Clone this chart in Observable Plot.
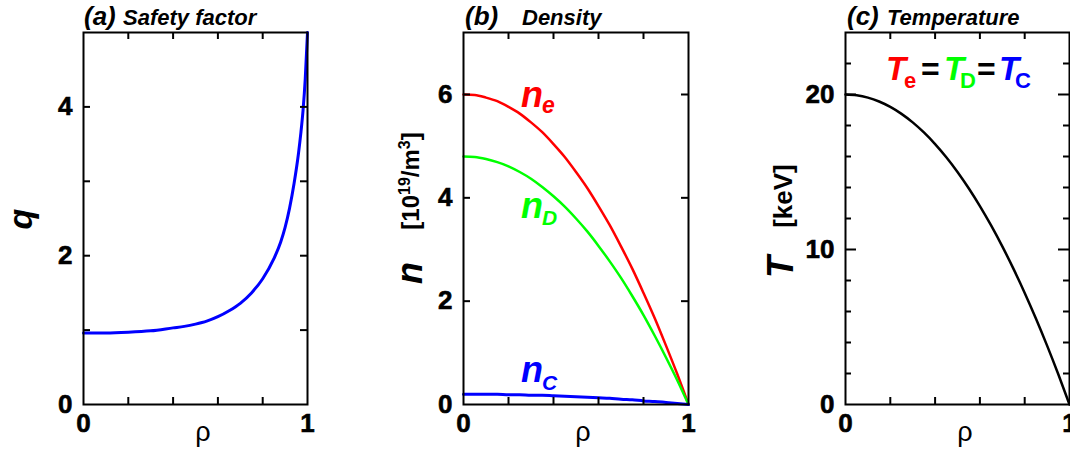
<!DOCTYPE html>
<html>
<head>
<meta charset="utf-8">
<script src="https://cdn.jsdelivr.net/npm/d3@7"></script>
<script src="https://cdn.jsdelivr.net/npm/@observablehq/plot@0.6"></script>
<style>
  body { margin: 0; background: #fff; }
  #root { position: relative; width: 1070px; height: 452px; overflow: hidden; background: #fff; }
  .panel { position: absolute; top: 0; }
  #overlay { position: absolute; left: 0; top: 0; pointer-events: none; overflow: visible; }
</style>
</head>
<body>
<div id="root"></div>
<script>
// ---------- data ----------
const rhoQ = [0, 0.1, 0.2, 0.3, 0.4, 0.45, 0.5, 0.55, 0.6, 0.65, 0.7, 0.75, 0.8, 0.85, 0.88, 0.9, 0.92, 0.94, 0.96, 0.97, 0.98, 0.99, 1.0];
const qVals = [0.96, 0.96, 0.97, 0.99, 1.03, 1.05, 1.08, 1.12, 1.18, 1.26, 1.36, 1.50, 1.69, 1.96, 2.18, 2.38, 2.64, 2.97, 3.38, 3.64, 3.95, 4.38, 5.00];

const rho = [0, 0.05, 0.1, 0.15, 0.2, 0.25, 0.3, 0.35, 0.4, 0.45, 0.5, 0.55, 0.6, 0.65, 0.7, 0.75, 0.8, 0.85, 0.9, 0.95, 1.0];
const neVals = [6.00, 5.99, 5.94, 5.87, 5.76, 5.63, 5.46, 5.27, 5.04, 4.79, 4.50, 4.19, 3.84, 3.47, 3.06, 2.63, 2.16, 1.67, 1.14, 0.59, 0.00];
const nDVals = [4.80, 4.79, 4.75, 4.69, 4.61, 4.50, 4.37, 4.21, 4.03, 3.83, 3.60, 3.35, 3.07, 2.77, 2.45, 2.10, 1.73, 1.33, 0.91, 0.47, 0.00];
const nCVals = [0.20, 0.20, 0.20, 0.20, 0.19, 0.19, 0.18, 0.18, 0.17, 0.16, 0.15, 0.14, 0.13, 0.12, 0.10, 0.09, 0.07, 0.06, 0.04, 0.02, 0.00];
const TVals  = [20.0, 19.95, 19.8, 19.55, 19.2, 18.75, 18.2, 17.55, 16.8, 15.95, 15.0, 13.95, 12.8, 11.55, 10.2, 8.75, 7.2, 5.55, 3.8, 1.95, 0.0];

const xTickLabels = [0, 1];
const xMinorTicks = [0.2, 0.4, 0.6, 0.8];
const qTickLabels = [0, 2, 4];
const qMinorTicks = [1, 3];
const nTickLabels = [0, 2, 4, 6];
const TTickLabels = [0, 10, 20];
const TMinorTicks = [2, 4, 6, 8, 12, 14, 16, 18, 22];

// ---------- layout ----------
const FONT = '"Liberation Sans", Arial, Helvetica, sans-serif';
const H = 452, MT = 32, MB = 48, PH = H - MT - MB;

function tableOf(xs, ys) { return xs.map((x, i) => ({x, y: ys[i]})); }

function makePanel({left, width, ml, mr, yDomain, yLabels, yMajor, yMinor, majorLen, minorLen, lines}) {
  const PW = width - ml - mr;
  const tk = {stroke: "black", strokeWidth: 2};
  const marks = [];
  for (const L of lines) {
    marks.push(Plot.line(tableOf(L.x, L.y), {x: "x", y: "y", stroke: L.color, strokeWidth: L.width, curve: "monotone-x"}));
  }
  marks.push(
    Plot.tickX(xMinorTicks, {x: d => d, insetTop: PH - 7, ...tk}),
    Plot.tickX(xMinorTicks, {x: d => d, insetBottom: PH - 7, ...tk}),
    Plot.tickY(yMajor, {y: d => d, insetRight: PW - majorLen, ...tk}),
    Plot.tickY(yMajor, {y: d => d, insetLeft: PW - majorLen, ...tk}),
    Plot.tickY(yMinor, {y: d => d, insetRight: PW - minorLen, ...tk}),
    Plot.tickY(yMinor, {y: d => d, insetLeft: PW - minorLen, ...tk}),
    Plot.frame({stroke: "black", strokeWidth: 2})
  );
  const svg = Plot.plot({
    width, height: H,
    marginTop: MT, marginBottom: MB, marginLeft: ml, marginRight: mr,
    x: {domain: [0, 1], ticks: xTickLabels, tickSize: 0, tickPadding: 9, label: null, tickFormat: d => String(d)},
    y: {domain: yDomain, ticks: yLabels, tickSize: 0, tickPadding: 11, label: null, tickFormat: d => String(d)},
    style: {fontFamily: FONT, fontSize: "26px", fontWeight: "bold", color: "black", background: "transparent", overflow: "visible"},
    marks
  });
  d3.select(svg).selectAll("text")
    .style("font-size", "26px").style("font-weight", "bold")
    .style("stroke", "black").style("stroke-width", "0.6px").style("paint-order", "stroke");
  const div = document.createElement("div");
  div.className = "panel";
  div.style.left = left + "px";
  div.style.width = width + "px";
  div.appendChild(svg);
  document.getElementById("root").appendChild(div);
}

makePanel({
  left: 0, width: 340, ml: 83, mr: 33,
  yDomain: [0, 5], yLabels: qTickLabels, yMajor: qTickLabels.slice(1), yMinor: qMinorTicks,
  majorLen: 7, minorLen: 7,
  lines: [{x: rhoQ, y: qVals, color: "#0000ff", width: 3}]
});
makePanel({
  left: 380, width: 340, ml: 83, mr: 32,
  yDomain: [0, 7.2], yLabels: nTickLabels, yMajor: nTickLabels.slice(1), yMinor: [],
  majorLen: 7, minorLen: 7,
  lines: [
    {x: rho, y: neVals, color: "#ff0000", width: 2.5},
    {x: rho, y: nDVals, color: "#00ff00", width: 2.5},
    {x: rho, y: nCVals, color: "#0000ff", width: 3}
  ]
});
makePanel({
  left: 760, width: 310, ml: 85, mr: 1,
  yDomain: [0, 24], yLabels: TTickLabels, yMajor: TTickLabels.slice(1), yMinor: TMinorTicks,
  majorLen: 11, minorLen: 6,
  lines: [{x: rho, y: TVals, color: "#000000", width: 2.5}]
});

// ---------- text overlay ----------
const ov = d3.select("#root").append("svg")
  .attr("id", "overlay").attr("width", 1070).attr("height", 452)
  .style("font-family", FONT);

function txt(x, y, s, size, opts = {}) {
  const t = ov.append("text").attr("x", x).attr("y", y).text(s)
    .attr("font-size", size)
    .attr("font-weight", opts.weight || "bold")
    .attr("font-style", opts.italic ? "italic" : "normal")
    .attr("fill", opts.color || "black")
    .attr("text-anchor", opts.anchor || "start");
  if (opts.rotate) t.attr("transform", `rotate(-90 ${x} ${y})`);
  return t;
}

// panel titles
txt(84, 25, "(a)", 26, {italic: true});
txt(123, 25, "Safety factor", 22, {italic: true});
txt(465, 25, "(b)", 26, {italic: true});
txt(522, 25, "Density", 22, {italic: true});
txt(847, 25, "(c)", 26, {italic: true});
txt(887, 25, "Temperature", 22, {italic: true});

// x labels
for (const cx of [203, 583, 965]) txt(cx, 441, "ρ", 27, {weight: "normal", anchor: "middle"});

// y labels
txt(32, 219, "q", 34, {italic: true, rotate: true, anchor: "middle"});
txt(422, 273, "n", 36, {italic: true, rotate: true, anchor: "middle"});
{
  const t = ov.append("text").attr("transform", "translate(419 181) rotate(-90)")
    .attr("text-anchor", "middle").attr("font-size", 24).attr("font-weight", "bold");
  t.append("tspan").text("[10");
  t.append("tspan").attr("font-size", 16).attr("dy", -9).text("19");
  t.append("tspan").attr("dy", 9).text("/m");
  t.append("tspan").attr("font-size", 16).attr("dy", -9).text("3");
  t.append("tspan").attr("dy", 9).text("]");
}
txt(793, 267, "T", 36, {italic: true, rotate: true, anchor: "middle"});
txt(792, 196, "[keV]", 26, {rotate: true, anchor: "middle"});

// density labels
txt(521, 107, "n", 36, {italic: true, color: "#ff0000"});
txt(542, 113, "e", 23, {italic: true, color: "#ff0000"});
txt(521, 218, "n", 36, {italic: true, color: "#00ff00"});
txt(542, 225, "D", 21, {italic: true, color: "#00ff00"});
txt(521, 382, "n", 36, {italic: true, color: "#0000ff"});
txt(542, 390, "C", 21, {italic: true, color: "#0000ff"});

// temperature equality label
txt(886, 80, "T", 33, {italic: true, color: "#ff0000"});
txt(904, 88, "e", 22, {color: "#ff0000"});
txt(921, 80, "=", 32, {color: "#000000"});
txt(944, 80, "T", 33, {italic: true, color: "#00ff00"});
txt(960, 88, "D", 22, {color: "#00ff00"});
txt(977, 80, "=", 32, {color: "#000000"});
txt(999, 80, "T", 33, {italic: true, color: "#0000ff"});
txt(1015, 88, "C", 22, {color: "#0000ff"});
</script>
</body>
</html>
